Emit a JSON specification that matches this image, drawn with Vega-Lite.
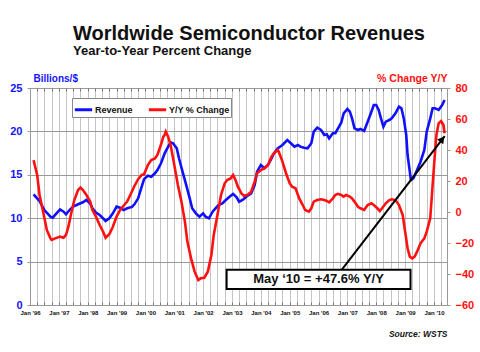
{
  "$schema": "https://vega.github.io/schema/vega-lite/v6.json",
  "width": 417,
  "height": 217,
  "autosize": {"type": "none"},
  "padding": {"left": 30, "top": 88, "right": 33, "bottom": 47},
  "background": "white",
  "config": {"view": {"stroke": "#999999", "strokeWidth": 1}, "font": "Liberation Sans"},
  "title": {
    "text": "Worldwide Semiconductor Revenues",
    "subtitle": "Year-to-Year Percent Change",
    "anchor": "start",
    "frame": "group",
    "dx": 43,
    "offset": 15,
    "font": "Liberation Sans",
    "fontSize": 20,
    "fontWeight": "bold",
    "color": "#111111",
    "subtitleFont": "Liberation Sans",
    "subtitleFontSize": 13,
    "subtitleFontWeight": "bold",
    "subtitleColor": "#111111",
    "subtitlePadding": 1
  },
  "datasets": {
    "rev": [
      {"date": "1996-02-15", "value": 12.75}, {"date": "1996-05-01", "value": 11.98}, {"date": "1996-07-01", "value": 10.94},
      {"date": "1996-09-15", "value": 10.18}, {"date": "1996-10-15", "value": 10.06}, {"date": "1996-12-01", "value": 10.56},
      {"date": "1997-01-15", "value": 11.02}, {"date": "1997-03-01", "value": 10.75}, {"date": "1997-04-01", "value": 10.45},
      {"date": "1997-05-15", "value": 10.94}, {"date": "1997-07-01", "value": 11.33}, {"date": "1997-09-01", "value": 11.6},
      {"date": "1997-11-01", "value": 11.83}, {"date": "1997-12-15", "value": 12.1}, {"date": "1998-02-01", "value": 11.7},
      {"date": "1998-03-01", "value": 11.14}, {"date": "1998-04-15", "value": 10.64}, {"date": "1998-06-01", "value": 10.37},
      {"date": "1998-07-15", "value": 9.98}, {"date": "1998-08-15", "value": 9.68}, {"date": "1998-10-01", "value": 9.98},
      {"date": "1998-11-15", "value": 10.56}, {"date": "1999-01-01", "value": 11.33}, {"date": "1999-02-15", "value": 11.2},
      {"date": "1999-04-01", "value": 10.94}, {"date": "1999-05-15", "value": 11.14}, {"date": "1999-07-15", "value": 11.3},
      {"date": "1999-08-15", "value": 11.6}, {"date": "1999-10-01", "value": 12.29}, {"date": "1999-11-15", "value": 13.63},
      {"date": "1999-12-15", "value": 14.5}, {"date": "2000-02-01", "value": 14.9}, {"date": "2000-03-15", "value": 14.78},
      {"date": "2000-05-01", "value": 15.17}, {"date": "2000-06-01", "value": 15.55}, {"date": "2000-07-15", "value": 16.3},
      {"date": "2000-09-01", "value": 17.47}, {"date": "2000-10-15", "value": 18.24}, {"date": "2000-11-15", "value": 18.74},
      {"date": "2000-12-15", "value": 18.63}, {"date": "2001-02-01", "value": 18.05}, {"date": "2001-03-01", "value": 16.9},
      {"date": "2001-04-15", "value": 15.36}, {"date": "2001-06-01", "value": 13.8}, {"date": "2001-07-15", "value": 12.29},
      {"date": "2001-08-15", "value": 11.14}, {"date": "2001-10-01", "value": 10.56}, {"date": "2001-11-15", "value": 10.17},
      {"date": "2002-01-01", "value": 10.56}, {"date": "2002-02-01", "value": 10.17}, {"date": "2002-03-15", "value": 9.98},
      {"date": "2002-05-01", "value": 10.75}, {"date": "2002-06-15", "value": 11.21}, {"date": "2002-07-15", "value": 11.52},
      {"date": "2002-09-01", "value": 11.71}, {"date": "2002-10-15", "value": 12.1}, {"date": "2002-12-01", "value": 12.48},
      {"date": "2003-01-15", "value": 12.8}, {"date": "2003-03-01", "value": 12.4}, {"date": "2003-04-01", "value": 11.9},
      {"date": "2003-05-15", "value": 12.1}, {"date": "2003-07-01", "value": 12.48}, {"date": "2003-09-01", "value": 12.87},
      {"date": "2003-10-15", "value": 13.82}, {"date": "2003-11-15", "value": 15.36}, {"date": "2004-01-01", "value": 16.13},
      {"date": "2004-02-15", "value": 15.75}, {"date": "2004-04-01", "value": 16.13}, {"date": "2004-05-15", "value": 16.9},
      {"date": "2004-06-15", "value": 17.47}, {"date": "2004-08-01", "value": 18.05}, {"date": "2004-10-01", "value": 18.43},
      {"date": "2004-12-01", "value": 19.0}, {"date": "2005-01-15", "value": 18.63}, {"date": "2005-03-01", "value": 18.24},
      {"date": "2005-04-15", "value": 18.43}, {"date": "2005-05-15", "value": 18.24}, {"date": "2005-07-01", "value": 18.12},
      {"date": "2005-08-15", "value": 18.05}, {"date": "2005-10-01", "value": 18.63}, {"date": "2005-11-01", "value": 19.97},
      {"date": "2005-12-15", "value": 20.43}, {"date": "2006-02-01", "value": 20.16}, {"date": "2006-03-15", "value": 19.59},
      {"date": "2006-04-15", "value": 19.66}, {"date": "2006-05-15", "value": 19.2}, {"date": "2006-07-01", "value": 19.78},
      {"date": "2006-08-01", "value": 19.8}, {"date": "2006-09-01", "value": 20.3}, {"date": "2006-10-15", "value": 21.0},
      {"date": "2006-11-15", "value": 22.08}, {"date": "2007-01-01", "value": 22.58}, {"date": "2007-02-01", "value": 22.27},
      {"date": "2007-03-01", "value": 21.5}, {"date": "2007-04-01", "value": 20.35}, {"date": "2007-05-15", "value": 20.16},
      {"date": "2007-06-15", "value": 20.28}, {"date": "2007-08-01", "value": 20.05}, {"date": "2007-09-15", "value": 21.12},
      {"date": "2007-11-01", "value": 22.27}, {"date": "2007-12-01", "value": 23.04}, {"date": "2008-01-01", "value": 23.04},
      {"date": "2008-02-01", "value": 22.47}, {"date": "2008-03-01", "value": 21.5}, {"date": "2008-04-01", "value": 20.55},
      {"date": "2008-05-01", "value": 21.12}, {"date": "2008-06-15", "value": 21.31}, {"date": "2008-07-15", "value": 21.5},
      {"date": "2008-09-01", "value": 22.08}, {"date": "2008-10-15", "value": 22.85}, {"date": "2008-11-15", "value": 22.66},
      {"date": "2008-12-15", "value": 21.5}, {"date": "2009-01-15", "value": 19.59}, {"date": "2009-02-01", "value": 17.28},
      {"date": "2009-03-01", "value": 15.36}, {"date": "2009-03-15", "value": 14.4}, {"date": "2009-04-15", "value": 14.6},
      {"date": "2009-06-01", "value": 15.55}, {"date": "2009-07-15", "value": 16.51}, {"date": "2009-09-01", "value": 17.86},
      {"date": "2009-10-01", "value": 19.97}, {"date": "2009-11-15", "value": 21.5}, {"date": "2009-12-15", "value": 22.66},
      {"date": "2010-01-15", "value": 22.66}, {"date": "2010-03-01", "value": 22.47}, {"date": "2010-04-15", "value": 23.04},
      {"date": "2010-05-15", "value": 23.62}
    ],
    "yy": [
      {"date": "1996-02-15", "value": 33.5}, {"date": "1996-04-01", "value": 23.9}, {"date": "1996-05-01", "value": 11},
      {"date": "1996-06-15", "value": 0.2}, {"date": "1996-08-01", "value": -11.6}, {"date": "1996-09-15", "value": -17},
      {"date": "1996-10-01", "value": -18}, {"date": "1996-11-15", "value": -17}, {"date": "1997-01-15", "value": -15.9},
      {"date": "1997-03-01", "value": -16.6}, {"date": "1997-04-01", "value": -14.8}, {"date": "1997-05-01", "value": -9.5},
      {"date": "1997-06-01", "value": -1.9}, {"date": "1997-07-15", "value": 7.7}, {"date": "1997-09-01", "value": 14.2},
      {"date": "1997-10-01", "value": 15.7}, {"date": "1997-11-01", "value": 14.2}, {"date": "1997-12-15", "value": 11},
      {"date": "1998-02-01", "value": 6.7}, {"date": "1998-03-01", "value": 1.3}, {"date": "1998-04-15", "value": -3},
      {"date": "1998-06-01", "value": -8.4}, {"date": "1998-07-15", "value": -12.7}, {"date": "1998-08-15", "value": -16.6},
      {"date": "1998-10-01", "value": -14.4}, {"date": "1998-11-15", "value": -9.5}, {"date": "1999-01-01", "value": -3},
      {"date": "1999-02-15", "value": 1.3}, {"date": "1999-04-15", "value": 5}, {"date": "1999-05-15", "value": 6.7},
      {"date": "1999-07-01", "value": 11.8}, {"date": "1999-08-15", "value": 16.8}, {"date": "1999-10-01", "value": 21.2},
      {"date": "1999-11-15", "value": 23.9}, {"date": "1999-12-15", "value": 24.3}, {"date": "2000-02-01", "value": 30.3},
      {"date": "2000-03-15", "value": 33.5}, {"date": "2000-05-01", "value": 34.6}, {"date": "2000-06-01", "value": 36.8},
      {"date": "2000-07-15", "value": 43.2}, {"date": "2000-08-15", "value": 48.6}, {"date": "2000-09-01", "value": 49.7},
      {"date": "2000-09-15", "value": 51.8}, {"date": "2000-10-15", "value": 48.6}, {"date": "2000-11-15", "value": 43.2},
      {"date": "2001-01-01", "value": 30.3}, {"date": "2001-02-15", "value": 17.4}, {"date": "2001-04-01", "value": 6.7},
      {"date": "2001-05-15", "value": -6.2}, {"date": "2001-06-15", "value": -19.1}, {"date": "2001-08-01", "value": -29.9},
      {"date": "2001-09-15", "value": -38.5}, {"date": "2001-11-01", "value": -43.9}, {"date": "2001-12-01", "value": -42.8},
      {"date": "2002-01-15", "value": -42.4}, {"date": "2002-03-01", "value": -38.5}, {"date": "2002-04-15", "value": -27.7},
      {"date": "2002-05-15", "value": -14.8}, {"date": "2002-07-01", "value": -1.9}, {"date": "2002-08-15", "value": 11},
      {"date": "2002-10-01", "value": 18.5}, {"date": "2002-11-01", "value": 20.6}, {"date": "2002-12-15", "value": 21.7},
      {"date": "2003-01-15", "value": 23.9}, {"date": "2003-02-15", "value": 20.6}, {"date": "2003-03-15", "value": 16.5},
      {"date": "2003-05-01", "value": 12}, {"date": "2003-06-01", "value": 10.5}, {"date": "2003-07-15", "value": 11},
      {"date": "2003-09-01", "value": 13.1}, {"date": "2003-10-15", "value": 19.6}, {"date": "2003-11-15", "value": 25},
      {"date": "2004-01-01", "value": 27.1}, {"date": "2004-02-15", "value": 28.2}, {"date": "2004-04-01", "value": 30.3},
      {"date": "2004-05-15", "value": 35.7}, {"date": "2004-06-15", "value": 37.8}, {"date": "2004-08-01", "value": 40},
      {"date": "2004-08-15", "value": 38.9}, {"date": "2004-10-01", "value": 32.5}, {"date": "2004-11-15", "value": 25},
      {"date": "2005-01-01", "value": 18.5}, {"date": "2005-02-01", "value": 16.3}, {"date": "2005-03-15", "value": 15.3},
      {"date": "2005-05-01", "value": 8.8}, {"date": "2005-06-15", "value": 4.5}, {"date": "2005-07-15", "value": 1.3},
      {"date": "2005-09-01", "value": 0.2}, {"date": "2005-10-01", "value": 2.4}, {"date": "2005-11-01", "value": 6.7},
      {"date": "2005-12-15", "value": 7.7}, {"date": "2006-02-01", "value": 8.2}, {"date": "2006-03-15", "value": 7.7},
      {"date": "2006-04-15", "value": 7.1}, {"date": "2006-05-15", "value": 6.2}, {"date": "2006-07-01", "value": 8.8},
      {"date": "2006-08-01", "value": 11}, {"date": "2006-09-01", "value": 11.7}, {"date": "2006-10-15", "value": 11},
      {"date": "2006-11-15", "value": 9.9}, {"date": "2006-12-15", "value": 11}, {"date": "2007-02-01", "value": 9.9},
      {"date": "2007-03-01", "value": 8.8}, {"date": "2007-04-01", "value": 6.7}, {"date": "2007-05-15", "value": 3.4},
      {"date": "2007-06-15", "value": 2.4}, {"date": "2007-08-01", "value": 1.3}, {"date": "2007-09-15", "value": 4.5},
      {"date": "2007-11-01", "value": 5.6}, {"date": "2007-12-01", "value": 4.5}, {"date": "2008-01-15", "value": 2.4},
      {"date": "2008-02-15", "value": 0.6}, {"date": "2008-03-15", "value": 2.4}, {"date": "2008-05-01", "value": 5.6},
      {"date": "2008-06-15", "value": 7.7}, {"date": "2008-07-15", "value": 8.2}, {"date": "2008-09-01", "value": 7.7},
      {"date": "2008-10-15", "value": 4.5}, {"date": "2008-12-01", "value": -1.9}, {"date": "2009-01-01", "value": -12.7},
      {"date": "2009-02-01", "value": -23.4}, {"date": "2009-03-01", "value": -28.8}, {"date": "2009-04-01", "value": -29.9},
      {"date": "2009-05-01", "value": -28.8}, {"date": "2009-06-01", "value": -25.6}, {"date": "2009-07-15", "value": -20.2},
      {"date": "2009-09-01", "value": -17}, {"date": "2009-10-01", "value": -12.7}, {"date": "2009-11-15", "value": -4.1},
      {"date": "2009-12-15", "value": 17.4}, {"date": "2010-01-15", "value": 38.9}, {"date": "2010-02-01", "value": 49.7},
      {"date": "2010-03-01", "value": 57.2}, {"date": "2010-04-01", "value": 58.7}, {"date": "2010-05-01", "value": 56.1},
      {"date": "2010-05-15", "value": 50.8}
    ],
    "box": [{"start": "2002-10-25", "end": "2009-03-10", "top": -37.2, "bottom": -49.6}],
    "label": [{"date": "2006-01-01", "value": -43.4, "text": "May \u201810 = +47.6% Y/Y"}],
    "arrow": [{"start": "2006-10-23", "end": "2010-05-17", "from": -37.2, "to": 49}],
    "head": [{"date": "2010-04-16", "value": 47}]
  },
  "layer": [
    {
      "data": {"name": "rev"},
      "mark": {"type": "line", "strokeWidth": 2.6},
      "encoding": {
        "x": {
          "field": "date", "type": "temporal",
          "scale": {"domain": [{"year": 1996, "month": 1, "date": 1}, {"year": 2010, "month": 6, "date": 15}]},
          "axis": {
            "orient": "bottom",
            "tickCount": {"interval": "month", "step": 3},
            "grid": false,
            "labelExpr": "month(datum.value) === 0 ? \"Jan '\" + timeFormat(datum.value, '%y') : ''",
            "labelFont": "Liberation Sans", "labelFontSize": 6, "labelFontWeight": "bold", "labelColor": "#111111",
            "labelOverlap": false, "labelFlush": false, "labelPadding": 7,
            "tickColor": "#777777", "tickSize": -3, "domainColor": "#999999",
            "title": "Source: WSTS", "titleFont": "Liberation Sans", "titleFontStyle": "italic", "titleFontWeight": "bold",
            "titleFontSize": 8.5, "titleColor": "#111111", "titleAnchor": "end", "titleY": 31, "titleBaseline": "alphabetic"
          }
        },
        "y": {
          "field": "value", "type": "quantitative",
          "scale": {"domain": [0, 25], "nice": false},
          "axis": {
            "orient": "left", "values": [0, 5, 10, 15, 20, 25],
            "grid": true, "gridColor": "#999999",
            "labelFont": "Liberation Sans", "labelFontSize": 11, "labelFontWeight": "bold", "labelColor": "#1414ff",
            "labelPadding": 5, "tickSize": 3, "tickColor": "#999999", "domainColor": "#999999",
            "title": "Billions/$", "titleAngle": 0, "titleAlign": "left", "titleBaseline": "alphabetic",
            "titleX": 3, "titleY": -7, "titleColor": "#1414ff", "titleFont": "Liberation Sans", "titleFontSize": 10, "titleFontWeight": "bold"
          }
        },
        "color": {
          "datum": "Revenue",
          "scale": {"domain": ["Revenue", "Y/Y % Change"], "range": ["#1010ff", "#ff1010"]},
          "legend": {
            "orient": "none", "legendX": 42, "legendY": 10, "direction": "horizontal", "title": null,
            "symbolType": "stroke", "symbolStrokeWidth": 3, "symbolSize": 300,
            "labelFont": "Liberation Sans", "labelFontSize": 9, "labelFontWeight": "bold", "labelColor": "#111111",
            "labelOffset": 1, "columnPadding": 9, "padding": 1, "fillColor": "white", "strokeColor": "#888888"
          }
        }
      }
    },
    {
      "data": {"name": "yy"},
      "mark": {"type": "line", "strokeWidth": 2.6},
      "encoding": {
        "x": {
          "field": "date", "type": "temporal",
          "axis": {
            "orient": "top", "tickCount": {"interval": "month", "step": 3},
            "grid": true, "gridColor": "#c4c4c4", "labels": false, "domain": false,
            "ticks": true, "tickSize": -3, "tickColor": "#777777", "title": null
          }
        },
        "y": {
          "field": "value", "type": "quantitative",
          "scale": {"domain": [-60, 80], "nice": false},
          "axis": {
            "orient": "right", "values": [-60, -40, -20, 0, 20, 40, 60, 80], "grid": false,
            "labelFont": "Liberation Sans", "labelFontSize": 11, "labelFontWeight": "bold", "labelColor": "#ff1010",
            "labelPadding": 5, "tickSize": 3, "tickColor": "#999999", "domainColor": "#999999",
            "title": "% Change Y/Y", "titleAngle": 0, "titleAlign": "right", "titleBaseline": "alphabetic",
            "titleX": 0, "titleY": -7, "titleColor": "#ff1010", "titleFont": "Liberation Sans", "titleFontSize": 10.5, "titleFontWeight": "bold"
          }
        },
        "color": {"datum": "Y/Y % Change"}
      }
    },
    {
      "data": {"name": "box"},
      "mark": {"type": "rect", "fill": "white", "stroke": "black", "strokeWidth": 2},
      "encoding": {
        "x": {"field": "start", "type": "temporal", "axis": null},
        "x2": {"field": "end"},
        "y": {"field": "top", "type": "quantitative", "scale": {"domain": [-60, 80], "nice": false}, "axis": null},
        "y2": {"field": "bottom"}
      }
    },
    {
      "data": {"name": "label"},
      "mark": {"type": "text", "font": "Liberation Sans", "fontSize": 13, "fontWeight": "bold", "color": "#111111", "baseline": "middle", "align": "center"},
      "encoding": {
        "x": {"field": "date", "type": "temporal", "axis": null},
        "y": {"field": "value", "type": "quantitative", "scale": {"domain": [-60, 80], "nice": false}, "axis": null},
        "text": {"field": "text"}
      }
    },
    {
      "data": {"name": "arrow"},
      "mark": {"type": "rule", "color": "black", "strokeWidth": 2},
      "encoding": {
        "x": {"field": "start", "type": "temporal", "axis": null},
        "x2": {"field": "end"},
        "y": {"field": "from", "type": "quantitative", "scale": {"domain": [-60, 80], "nice": false}, "axis": null},
        "y2": {"field": "to"}
      }
    },
    {
      "data": {"name": "head"},
      "mark": {"type": "point", "shape": "triangle-up", "filled": true, "color": "black", "size": 60, "angle": 38, "opacity": 1},
      "encoding": {
        "x": {"field": "date", "type": "temporal", "axis": null},
        "y": {"field": "value", "type": "quantitative", "scale": {"domain": [-60, 80], "nice": false}, "axis": null}
      }
    }
  ],
  "resolve": {"scale": {"y": "independent"}, "axis": {"x": "independent"}}
}
